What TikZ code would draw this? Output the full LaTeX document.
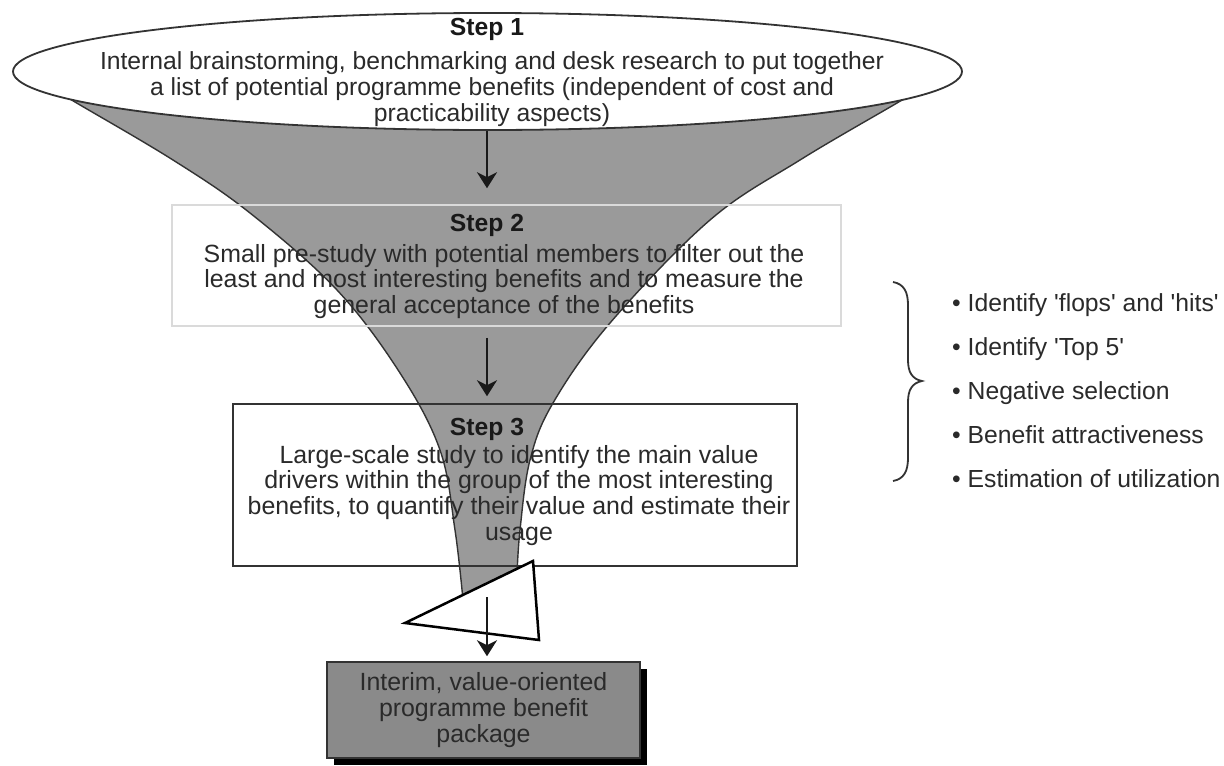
\documentclass[tikz,border=0pt]{standalone}
\usepackage{fontspec}
\setmainfont{Liberation Sans}
\usetikzlibrary{arrows.meta,shadows,shapes.geometric}
\definecolor{txt}{HTML}{2A2A2A}
\definecolor{funnelgray}{HTML}{9A9A9A}
\definecolor{boxgray}{HTML}{8A8A8A}
\definecolor{lightedge}{HTML}{DADADA}
\definecolor{darkedge}{HTML}{333333}
\begin{document}
\begin{tikzpicture}[x=1pt,y=-1pt,
  bodytext/.style={font=\fontsize{24.9}{25.7}\selectfont, text=txt, inner sep=0pt, align=center},
  headtext/.style={font=\fontsize{24.7}{26}\selectfont\bfseries, text=black!90, inner sep=0pt},
  flow/.style={line width=2.4pt, draw=black!90, -{Stealth[length=16pt,width=20pt,inset=5pt]}},
  funnel/.style={draw=darkedge, line width=1.4pt, fill=funnelgray},
  stepbox/.style={line width=1.5pt, inner sep=0pt, fill=none},
  tri/.style={draw=black, line width=2.5pt, fill=white, line join=miter},
  bracestyle/.style={draw=darkedge, line width=1.8pt},
]
\useasboundingbox (0,0) rectangle (1224,766);
\fill[white] (0,0) rectangle (1224,766);

% funnel
\draw[funnel] plot[smooth, tension=0.6] coordinates {(50,87) (75,102) (173,160) (250,213) (337,290) (400,373) (440,450) (455,530) (463,600)}
  -- plot[smooth, tension=0.6] coordinates {(517,575) (520,530) (530,460) (553,403) (610,323) (710,220) (800,160) (897,103) (920,89)} -- cycle;

% step 1 ellipse
\node[ellipse, draw=darkedge, line width=1.8pt, fill=white, minimum width=949pt, minimum height=117pt, inner sep=0pt] (s1) at (487.5,71.5) {};
\node[headtext, anchor=base] (h1) at (487,35) {Step 1};
\node[bodytext, anchor=north, font=\fontsize{24.7}{26}\selectfont] (b1) at (492,51) {Internal brainstorming, benchmarking and desk research to put together\\a list of potential programme benefits (independent of cost and\\practicability aspects)};

% step 2
\node[stepbox, draw=lightedge, minimum width=669pt, minimum height=121pt] (s2) at (506.5,265.5) {};
\node[headtext, anchor=base] (h2) at (487,231) {Step 2};
\node[bodytext, anchor=north] (b2) at (504,244) {Small pre-study with potential members to filter out the\\least and most interesting benefits and to measure the\\general acceptance of the benefits};

% step 3
\node[stepbox, draw=darkedge, minimum width=564pt, minimum height=162pt] (s3) at (515,485) {};
\node[headtext, anchor=base] (h3) at (487,435) {Step 3};
\node[bodytext, anchor=north] (b3) at (519,445) {Large-scale study to identify the main value\\drivers within the group of the most interesting\\benefits, to quantify their value and estimate their\\usage};

% arrows between steps
\draw[flow, shorten >=16pt] (s1.south -| h1) -- (s2.north -| h1);
\draw[flow, shorten <=11pt, shorten >=7pt] (s2.south -| h1) -- (s3.north -| h1);

% triangle filter
\draw[tri] (405,623) -- (533,561) -- (539,640) -- cycle;

% result box
\node[bodytext, draw=darkedge, line width=1.5pt, fill=boxgray, minimum width=313pt, minimum height=96pt,
  drop shadow={shadow xshift=7pt, shadow yshift=-7pt, fill=black, opacity=1}] (fin) at (483.5,710)
  {Interim, value-oriented\\programme benefit\\package};

\coordinate (a3) at (487,597);
\draw[flow, shorten >=5pt] (a3) -- (a3 |- fin.north);

% brace
\draw[bracestyle] (893,282) .. controls (904,284) and (908,292) .. (908,305) -- (908,360)
  .. controls (908,372) and (912,379) .. (922,381)
  .. controls (912,383) and (908,390) .. (908,402) -- (908,458)
  .. controls (908,471) and (904,479) .. (893,481);

% list
\node[anchor=north west, font=\fontsize{24.7}{44}\selectfont, text=txt, align=left, inner sep=0pt] (list) at (952,293)
  {• Identify \textquotesingle flops\textquotesingle{} and \textquotesingle hits\textquotesingle\\
   • Identify \textquotesingle Top 5\textquotesingle\\
   • Negative selection\\
   • Benefit attractiveness\\
   • Estimation of utilization};
\end{tikzpicture}
\end{document}
